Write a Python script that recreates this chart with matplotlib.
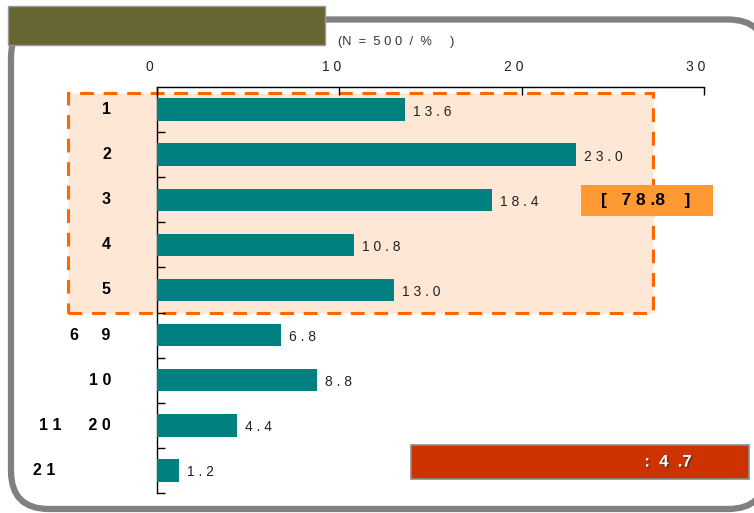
import matplotlib
matplotlib.use("Agg")
import matplotlib.pyplot as plt
from matplotlib.patches import FancyBboxPatch, Rectangle
from matplotlib.transforms import blended_transform_factory, ScaledTranslation
import matplotlib.patheffects as pe

plt.rcParams['font.family'] = ['Liberation Sans', 'DejaVu Sans']

# --- data ---
categories = ["1", "2", "3", "4", "5", "6     9", "1 0", "1 1      2 0", "2 1"]
values = [13.6, 23.0, 18.4, 10.8, 13.0, 6.8, 8.8, 4.4, 1.2]
value_labels = ["1 3 . 6", "2 3 . 0", "1 8 . 4", "1 0 . 8", "1 3 . 0",
                "6 . 8", "8 . 8", "4 . 4", "1 . 2"]
xticks = [0, 10, 20, 30]
xtick_labels = ["0", "1 0", "2 0", "3 0"]
group_total = "[   7 8 .8    ]"
average_text = ":  4  .7"
n_note = "(N  =  5 0 0  /  %     )"

fig = plt.figure(figsize=(7.54, 5.13), dpi=100)
fig.patch.set_facecolor("white")
inch = fig.dpi_scale_trans

# outer rounded frame
frame = FancyBboxPatch((0.11, 0.04), 7.55, 4.895,
                       boxstyle="round,pad=0,rounding_size=0.38",
                       transform=inch, facecolor="white", edgecolor="#808080",
                       linewidth=4.5, zorder=-3)
fig.patches.append(frame)

# header block
header = Rectangle((0.08, 5.13 - 0.45), 3.17, 0.39, transform=inch,
                   facecolor="#666633", edgecolor="#999999", linewidth=1, zorder=5)
fig.patches.append(header)

fig.text(3.38, 5.13 - 0.42, n_note, transform=inch, fontsize=9.3,
         color="#333333", va="center", ha="left")

# highlighted group (categories 1-5)
group_box = Rectangle((0.68, 5.13 - 3.13), 5.85, 2.2, transform=inch,
                      facecolor="#FFE7D6", edgecolor="#FF6600", linewidth=2.2,
                      linestyle=(0, (4.5, 3.2)), zorder=-1)
fig.patches.append(group_box)

# bar chart
ax = fig.add_axes([157 / 754, 20 / 513, 547 / 754, 406 / 513])
ax.set_facecolor("none")
y = list(range(len(categories)))
ax.barh(y, values, height=0.5, color="#008080", zorder=3)
ax.set_xlim(0, 30)
ax.set_ylim(len(categories) - 0.5, -0.5)

for s in ["right", "bottom"]:
    ax.spines[s].set_visible(False)
ax.spines["left"].set_linewidth(1)
ax.spines["top"].set_linewidth(1)

ax.xaxis.tick_top()
ax.set_xticks(xticks)
ax.tick_params(axis="x", direction="in", length=6, width=1, labeltop=False)
ax.set_yticks([i + 0.5 for i in range(len(categories))])
ax.tick_params(axis="y", direction="in", length=6, width=1, labelleft=False)

# top scale labels, nudged a few pixels left
shift = ScaledTranslation(-8 / 100, 0, inch)
tx = blended_transform_factory(ax.transData, ax.transAxes)
for xv, lab in zip(xticks, xtick_labels):
    ax.text(xv, 1.05, lab, transform=tx + shift, ha="center", va="center",
            fontsize=10, color="#222222", clip_on=False)

# value labels next to bars
off = ScaledTranslation(8 / 100, -2 / 100, inch)
for yi, v, lab in zip(y, values, value_labels):
    ax.text(v, yi, lab, transform=ax.transData + off, ha="left", va="center",
            fontsize=10, color="#222222", zorder=4)

# category labels on the left
ty = blended_transform_factory(fig.transFigure, ax.transData)
label_right = [111, 111, 111, 111, 111, 110, 111, 111, 55]
for yi, lab, xr in zip(y, categories, label_right):
    fig.text(xr / 754, yi, lab, transform=ty, ha="right", va="center",
             fontsize=11.5, fontweight="bold", color="black")

# group total tag
tag = Rectangle((5.81, 5.13 - 2.16), 1.32, 0.31, transform=inch,
                facecolor="#FF9933", edgecolor="none", zorder=2)
fig.patches.append(tag)
fig.text(6.46, 5.13 - 2.005, group_total, transform=inch, ha="center",
         va="center", fontsize=12.5, fontweight="bold", color="black", zorder=6)

# average banner
banner = Rectangle((4.11, 5.13 - 4.79), 3.38, 0.34, transform=inch,
                   facecolor="#CC3300", edgecolor="#8C8C8C", linewidth=1.2, zorder=2)
fig.patches.append(banner)
fig.text(6.68, 5.13 - 4.62, average_text, transform=inch, ha="center",
         va="center", fontsize=12, fontweight="bold", color="white", zorder=6,
         path_effects=[pe.withSimplePatchShadow(offset=(1, -1), shadow_rgbFace="#333333", alpha=0.8)])

fig.savefig("out.png", dpi=100)
